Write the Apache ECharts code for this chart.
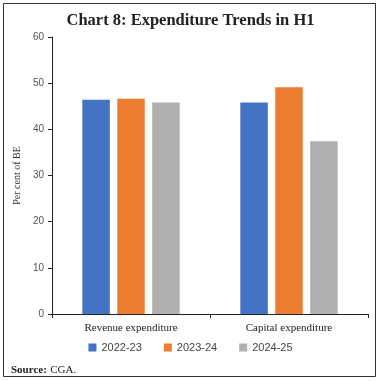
<!DOCTYPE html>
<html><head><meta charset="utf-8">
<script src="https://cdn.jsdelivr.net/npm/echarts@6/dist/echarts.min.js"></script>
<style>html,body{margin:0;padding:0;background:#fff}#c{width:381px;height:381px}</style>
</head><body><div id="c"></div>
<script>
const categories = ['Revenue expenditure', 'Capital expenditure'];
const seriesNames = ['2022-23', '2023-24', '2024-25'];
const values2022 = [46.4, 45.8];
const values2023 = [46.6, 49.1];
const values2024 = [45.8, 37.4];
const colors = ['#4472C4', '#ED7D31', '#B0B0B0'];
const yTicks = {min: 0, max: 60, interval: 10};

const chart = echarts.init(document.getElementById('c'));
const data = [values2022, values2023, values2024];
chart.setOption({
  animation: false,
  title: {text: 'Chart 8: Expenditure Trends in H1', left: 'center', top: 7,
    textStyle: {fontFamily: 'Liberation Serif', fontWeight: 'bold', fontSize: 16.5, color: '#222'}},
  graphic: [{type: 'rect', shape: {x: 3.5, y: 3.5, width: 372, height: 373},
    style: {fill: 'none', stroke: '#333', lineWidth: 1}},
    {type: 'text', left: 11, top: 364, style: {rich: {b: {fontWeight: 'bold', fontFamily: 'Liberation Serif', fontSize: 11, fill: '#222'}, n: {fontFamily: 'Liberation Serif', fontSize: 11, fill: '#222'}}, text: '{b|Source:} {n|CGA.}'}}],
  grid: {left: 52, right: 13, top: 37, bottom: 67},
  legend: {bottom: 23, left: 'center', itemWidth: 8, itemHeight: 8, itemGap: 22,
    icon: 'rect', textStyle: {fontFamily: 'Liberation Sans', fontSize: 11, color: '#444'}, data: seriesNames},
  xAxis: {type: 'category', data: categories,
    axisLine: {lineStyle: {color: '#222'}},
    axisTick: {show: true, lineStyle: {color: '#222'}, length: 4},
    axisLabel: {fontFamily: 'Liberation Serif', fontSize: 11, color: '#222', margin: 9}},
  yAxis: {type: 'value', min: yTicks.min, max: yTicks.max, interval: yTicks.interval,
    name: 'Per cent of BE', nameLocation: 'middle', nameGap: 30,
    nameTextStyle: {fontFamily: 'Liberation Serif', fontSize: 10, color: '#333'},
    axisLine: {show: true, lineStyle: {color: '#222'}},
    axisTick: {show: true, lineStyle: {color: '#222'}, length: 4},
    splitLine: {show: false},
    axisLabel: {fontFamily: 'Liberation Sans', fontSize: 10, color: '#555', margin: 8}},
  series: seriesNames.map((n, i) => ({name: n, type: 'bar', data: data[i],
    barWidth: 27.5, barGap: '27%', itemStyle: {color: colors[i]}}))
});
</script></body></html>
